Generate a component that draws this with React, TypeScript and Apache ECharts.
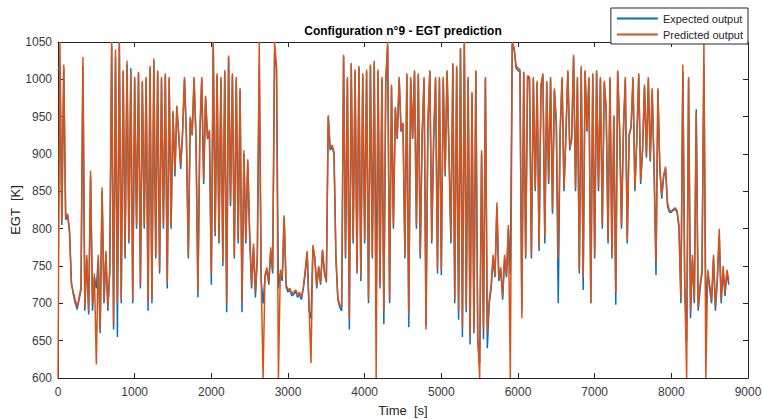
import React, { useEffect, useRef } from "react";
import * as echarts from "echarts";

const titleText = "Configuration n°9 - EGT prediction";
const xLabel = "Time  [s]";
const yLabel = "EGT  [K]";
const seriesNames = ["Expected output", "Predicted output"];
const sampleStep = 25; // seconds between samples

const expected: number[] = [
  1012, 1018, 805, 1015, 812, 818, 795, 728, 712, 700, 692, 705, 718, 1018, 690, 760, 685, 870, 690, 735,
  720, 760, 660, 850, 700, 765, 690, 740, 1045, 665, 1030, 655, 1048, 700, 1010, 760, 1020, 780, 1015, 700,
  1000, 800, 1008, 720, 995, 800, 1000, 690, 1015, 700, 1025, 760, 1010, 740, 1000, 800, 1005, 720, 1000, 800,
  955, 870, 962, 925, 880, 928, 1000, 922, 760, 948, 925, 1000, 920, 708, 925, 1000, 860, 975, 920, 930,
  725, 1050, 790, 1005, 780, 1000, 750, 1010, 688, 1030, 830, 1005, 760, 1000, 780, 985, 688, 900, 780, 890,
  790, 720, 775, 708, 760, 1020, 730, 700, 735, 745, 725, 770, 740, 1035, 1015, 720, 740, 730, 815, 722,
  715, 718, 710, 712, 716, 708, 712, 705, 720, 740, 768, 690, 680, 775, 760, 720, 748, 725, 770, 740,
  728, 950, 905, 910, 900, 760, 705, 695, 690, 1030, 760, 1000, 665, 1020, 780, 1010, 740, 1015, 730, 1005,
  780, 1010, 700, 1018, 760, 1022, 700, 1010, 720, 1000, 672, 995, 1045, 700, 990, 800, 960, 920, 1000, 930,
  940, 760, 1005, 668, 1000, 920, 1010, 800, 1005, 760, 925, 1000, 670, 940, 1010, 780, 920, 1000, 740, 1000,
  738, 1000, 870, 1010, 900, 780, 1020, 700, 1015, 678, 1040, 655, 1048, 688, 1000, 645, 980, 660, 1010, 650,
  620, 900, 652, 1000, 640, 700, 720, 760, 735, 830, 730, 745, 705, 760, 735, 800, 740, 1048, 1040, 1015,
  1012, 1010, 690, 1008, 760, 1003, 1000, 760, 1000, 850, 995, 770, 990, 1005, 780, 995, 860, 1000, 820, 985,
  940, 700, 930, 1000, 850, 925, 1010, 905, 920, 1030, 850, 1000, 740, 1015, 718, 1010, 930, 1000, 700, 1005,
  760, 1010, 850, 1000, 800, 995, 960, 780, 1000, 760, 950, 698, 1010, 935, 800, 930, 1000, 780, 925, 935,
  1000, 850, 920, 1005, 860, 905, 990, 895, 1000, 890, 985, 880, 738, 985, 880, 840, 870, 880, 830, 822,
  822, 825, 826, 822, 800, 700, 1010, 720, 650, 1000, 680, 760, 700, 960, 690, 720, 740, 1020, 690, 740,
  720, 700, 760, 690, 730, 790, 700, 745, 710, 740, 725,
];

const predicted: number[] = [
  600, 1050, 810, 1020, 815, 820, 800, 725, 715, 705, 695, 708, 722, 1030, 695, 765, 690, 878, 700, 740,
  618, 765, 665, 855, 705, 770, 695, 745, 1050, 670, 1040, 700, 1050, 705, 1012, 765, 1025, 785, 1010, 705,
  1003, 805, 1010, 725, 998, 805, 1003, 700, 1018, 705, 1028, 765, 1012, 745, 1003, 805, 1008, 728, 1003, 805,
  958, 875, 965, 926, 885, 930, 1003, 923, 765, 950, 927, 1003, 922, 715, 928, 1003, 865, 978, 922, 932,
  740, 1050, 795, 1008, 785, 1003, 755, 1012, 700, 1032, 835, 1008, 765, 1003, 785, 988, 700, 905, 785, 893,
  795, 725, 780, 715, 765, 1050, 735, 600, 738, 748, 728, 775, 745, 1050, 1018, 600, 745, 735, 818, 725,
  718, 720, 713, 715, 718, 712, 715, 708, 722, 745, 770, 695, 620, 778, 762, 723, 750, 728, 772, 743,
  730, 952, 908, 912, 903, 765, 708, 698, 695, 1033, 765, 1003, 680, 1022, 785, 1013, 745, 1018, 735, 1008,
  785, 1013, 705, 1020, 765, 1025, 600, 1013, 725, 1003, 690, 998, 1050, 705, 993, 805, 963, 923, 1003, 932,
  942, 765, 1008, 685, 1003, 922, 1012, 805, 1008, 765, 927, 1003, 665, 942, 1012, 785, 922, 1003, 745, 1003,
  745, 1003, 875, 1012, 903, 785, 1022, 705, 1018, 690, 1042, 668, 1050, 695, 1003, 655, 983, 665, 1012, 655,
  600, 905, 668, 1003, 660, 705, 725, 765, 738, 835, 733, 748, 710, 765, 738, 805, 600, 1050, 1042, 1018,
  1015, 1013, 680, 1010, 765, 1005, 1003, 765, 1003, 855, 998, 775, 993, 1008, 790, 998, 865, 1003, 825, 988,
  942, 760, 932, 1003, 855, 927, 1012, 908, 922, 1033, 855, 1003, 745, 1018, 735, 1012, 932, 1003, 700, 1008,
  765, 1012, 855, 1003, 805, 998, 962, 785, 1003, 765, 952, 715, 1012, 937, 805, 932, 1003, 785, 927, 937,
  1003, 855, 922, 1008, 865, 907, 993, 897, 1003, 893, 988, 883, 755, 988, 883, 845, 872, 883, 835, 824,
  824, 826, 828, 824, 805, 705, 1020, 725, 600, 1003, 690, 765, 705, 955, 695, 725, 745, 1050, 600, 745,
  725, 705, 765, 695, 735, 800, 705, 750, 715, 745, 730,
];

const xTicks = { min: 0, max: 9000, interval: 1000 };
const yTicks = { min: 600, max: 1050, interval: 50 };

export default function App() {
  const ref = useRef<HTMLDivElement>(null);
  useEffect(() => {
    if (!ref.current) return;
    const chart = echarts.init(ref.current, null, { renderer: "svg" });
    const toPairs = (arr: number[]) => arr.map((v, i) => [i * sampleStep, v]);
    const axisColor = "#262626";
    const font = "'Liberation Sans', Arial, sans-serif";
    const plain = (v: number) => String(v);
    chart.setOption({
      animation: false,
      backgroundColor: "#ffffff",
      textStyle: { fontFamily: font },
      grid: { left: 58, right: 15, top: 42, bottom: 41, containLabel: false, outerBoundsMode: "none" },
      graphic: [
        {
          type: "text",
          x: 403,
          y: 31,
          style: {
            text: titleText,
            fontFamily: font,
            fontSize: 12,
            fontWeight: "bold",
            fill: "#000",
            align: "center",
            verticalAlign: "middle",
          },
          z: 10,
        },
      ],
      legend: {
        show: true,
        orient: "vertical",
        right: 15,
        top: 8,
        padding: [4, 5, 3, 6],
        itemGap: 3,
        itemWidth: 41,
        itemHeight: 2,
        icon: "rect",
        backgroundColor: "#ffffff",
        borderColor: axisColor,
        borderWidth: 1,
        borderRadius: 0,
        textStyle: { fontSize: 11, color: axisColor, fontFamily: font, lineHeight: 13 },
        data: seriesNames,
        z: 20,
      },
      xAxis: [
        {
          type: "value",
          min: xTicks.min,
          max: xTicks.max,
          interval: xTicks.interval,
          name: xLabel,
          nameLocation: "middle",
          nameGap: 26,
          nameMoveOverlap: false,
          nameTextStyle: { fontSize: 13, color: axisColor, fontFamily: font },
          axisLine: { show: true, onZero: false, lineStyle: { color: axisColor, width: 1 } },
          axisTick: { show: true, inside: true, length: 5, lineStyle: { color: axisColor } },
          axisLabel: { fontSize: 12, color: "#3a3a3a", margin: 8, fontFamily: font, formatter: plain },
          splitLine: { show: false },
        },
        {
          type: "value",
          position: "top",
          min: xTicks.min,
          max: xTicks.max,
          interval: xTicks.interval,
          axisLine: { show: true, onZero: false, lineStyle: { color: axisColor, width: 1 } },
          axisTick: { show: true, inside: true, length: 5, lineStyle: { color: axisColor } },
          axisLabel: { show: false },
          splitLine: { show: false },
        },
      ],
      yAxis: [
        {
          type: "value",
          min: yTicks.min,
          max: yTicks.max,
          interval: yTicks.interval,
          name: yLabel,
          nameLocation: "middle",
          nameGap: 36,
          nameMoveOverlap: false,
          nameTextStyle: { fontSize: 13, color: axisColor, fontFamily: font },
          axisLine: { show: true, onZero: false, lineStyle: { color: axisColor, width: 1 } },
          axisTick: { show: true, inside: true, length: 5, lineStyle: { color: axisColor } },
          axisLabel: { fontSize: 12, color: "#3a3a3a", margin: 6, fontFamily: font, formatter: plain },
          splitLine: { show: false },
        },
        {
          type: "value",
          position: "right",
          min: yTicks.min,
          max: yTicks.max,
          interval: yTicks.interval,
          axisLine: { show: true, onZero: false, lineStyle: { color: axisColor, width: 1 } },
          axisTick: { show: true, inside: true, length: 5, lineStyle: { color: axisColor } },
          axisLabel: { show: false },
          splitLine: { show: false },
        },
      ],
      series: [
        {
          name: seriesNames[0],
          type: "line",
          xAxisIndex: 0,
          yAxisIndex: 0,
          symbol: "none",
          color: "#0072BD",
          lineStyle: { width: 1.5, color: "#0072BD" },
          data: toPairs(expected),
          clip: true,
          z: 2,
        },
        {
          name: seriesNames[1],
          type: "line",
          xAxisIndex: 0,
          yAxisIndex: 0,
          symbol: "none",
          color: "#D95319",
          lineStyle: { width: 1.5, color: "#D95319" },
          data: toPairs(predicted),
          clip: true,
          z: 3,
        },
      ],
    });
    return () => chart.dispose();
  }, []);
  return (
    <div
      ref={ref}
      style={{ position: "fixed", left: 0, top: 0, width: 763, height: 419, background: "#fff" }}
    />
  );
}
